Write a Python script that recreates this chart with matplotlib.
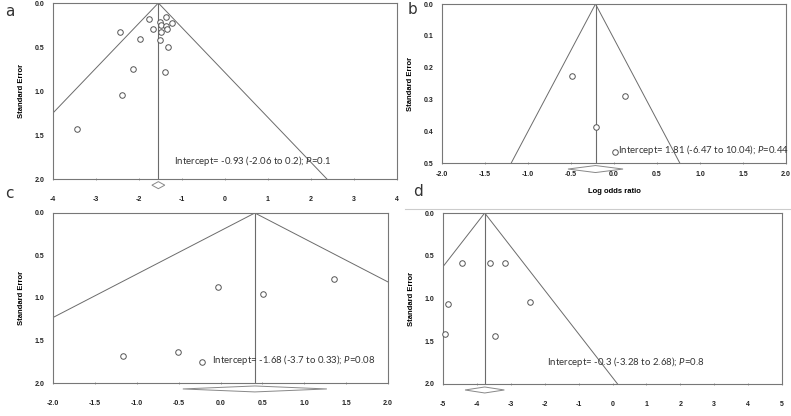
import matplotlib
matplotlib.use('Agg')
import matplotlib.pyplot as plt
import numpy as np

plt.rcParams['mathtext.fontset'] = 'custom'
plt.rcParams['mathtext.it'] = 'Lato:italic'
plt.rcParams['mathtext.rm'] = 'Lato'

# panel a
a_x = [-1.76, -1.38, -1.24, -1.51, -1.49, -1.38, -1.68, -1.35, -1.50, -2.44, -1.97, -1.51, -1.32, -2.14, -1.39, -2.40, -3.44]
a_se = [0.185, 0.159, 0.227, 0.215, 0.253, 0.265, 0.295, 0.295, 0.329, 0.329, 0.405, 0.423, 0.499, 0.749, 0.783, 1.04, 1.429]
a_pool = -1.55
a_text = 'Intercept= -0.93 (-2.06 to 0.2); '
a_p = '0.1'

# panel b
b_x = [-0.486, 0.131, -0.215, 0.012]
b_se = [0.227, 0.29, 0.388, 0.466]
b_pool = -0.215
b_text = 'Intercept= 1.81 (-6.47 to 10.04); '
b_p = '0.44'

# panel c
c_x = [-0.03, 0.51, 1.355, -1.16, -0.51, -0.22]
c_se = [0.87, 0.949, 0.776, 1.686, 1.639, 1.749]
c_pool = 0.41
c_text = 'Intercept= -1.68 (-3.7 to 0.33); '
c_p = '0.08'

# panel d
d_x = [-4.44, -3.61, -3.18, -4.86, -2.43, -4.94, -3.47]
d_se = [0.589, 0.585, 0.589, 1.064, 1.045, 1.419, 1.439]
d_pool = -3.77
d_text = 'Intercept= -0.3 (-3.28 to 2.68); '
d_p = '0.8'

gris = '#6b6b6b'


def xticks_fmt(ticks):
    if all(float(v).is_integer() for v in ticks):
        return ['%d' % v for v in ticks]
    return ['%.1f' % v for v in ticks]


fig = plt.figure(figsize=(7.91, 4.16), dpi=100)

W, H = 791.0, 416.0


def caja(l, t, r, b):
    return fig.add_axes([l / W, 1 - b / H, (r - l) / W, (b - t) / H])


axa = caja(53, 3, 397, 179)
axb = caja(442, 4, 786, 163)
axc = caja(53, 213, 388, 383)
axd = caja(443, 213, 782, 384)

pasos = [0.1 * i for i in range(-20, 21, 5)]
paneles = [
    (axa, a_x, a_se, a_pool, (-4, 4), 2.0, list(range(-4, 5)), [0, 0.5, 1.0, 1.5, 2.0], 0.15, 2.07, 0.04, a_text, a_p, -1.18, 1.83, 11),
    (axb, b_x, b_se, b_pool, (-2, 2), 0.5, [-2.0, -1.5, -1.0, -0.5, 0.0, 0.5, 1.0, 1.5, 2.0], [0, 0.1, 0.2, 0.3, 0.4, 0.5], 0.32, 0.519, 0.011, b_text, b_p, 0.05, 0.468, 5),
    (axc, c_x, c_se, c_pool, (-2, 2), 2.0, [-2.0, -1.5, -1.0, -0.5, 0.0, 0.5, 1.0, 1.5, 2.0], [0, 0.5, 1.0, 1.5, 2.0], 0.86, 2.07, 0.035, c_text, c_p, -0.1, 1.76, 11),
    (axd, d_x, d_se, d_pool, (-5, 5), 2.0, list(range(-5, 6)), [0, 0.5, 1.0, 1.5, 2.0], 0.58, 2.07, 0.035, d_text, d_p, -1.93, 1.78, 11),
]

for (ax, xs, ses, pool, xl, ym, xt, yt, dh_, dy, dhh, txt, p, tx, ty, xpad) in paneles:
    ax.set_xlim(xl)
    ax.set_ylim(ym, 0)
    se = np.array([0, ym * 1.5])
    ax.plot(pool - 1.96 * se, se, color=gris, lw=0.7)
    ax.plot(pool + 1.96 * se, se, color=gris, lw=0.7)
    ax.plot([pool, pool], [0, ym], color=gris, lw=0.8)
    ax.plot(xs, ses, 'o', mfc='white', mec='#555555', ms=4, mew=0.7, zorder=3, clip_on=False)
    ax.fill([pool - dh_, pool, pool + dh_, pool],
            [dy, dy - dhh, dy, dy + dhh], facecolor='white',
            edgecolor='#888888', lw=0.7, clip_on=False)
    ax.set_xticks(xt)
    ax.set_yticks(yt)
    ax.set_xticklabels(xticks_fmt(xt))
    ax.set_yticklabels(['%.1f' % v for v in yt])
    for s in ax.spines.values():
        s.set_color('#777777')
        s.set_linewidth(0.8)
    ax.tick_params(axis='x', direction='inout', length=2, width=0.5, colors='#777777',
                   labelcolor='#222222', labelsize=5, pad=xpad)
    ax.tick_params(axis='y', length=0, labelcolor='#222222', labelsize=5, pad=6)
    for lab in ax.get_xticklabels() + ax.get_yticklabels():
        lab.set_fontweight('bold')
        lab.set_family('Liberation Sans')
    ax.set_ylabel('Standard Error', fontsize=5.5, fontweight='bold',
                  family='Liberation Sans', labelpad=7)
    ax.text(tx, ty, txt + r'$\mathit{P}$=' + p, fontsize=6.9, family='Lato', color='#333333')

axb.set_xlabel('Log odds ratio', fontsize=5.5, fontweight='bold', family='Liberation Sans', labelpad=7)

# letras de los paneles
fig.text(5 / W, 1 - 12 / H, 'a', fontsize=11, va='center', color='#333333')
fig.text(408 / W, 1 - 10 / H, 'b', fontsize=11, va='center', color='#333333')
fig.text(5 / W, 1 - 193 / H, 'c', fontsize=11, va='center', color='#333333')
fig.text(413 / W, 1 - 192 / H, 'd', fontsize=11, va='center', color='#333333')

# borde gris claro de la imagen d
fig.add_artist(plt.Line2D([405 / W, 1], [1 - 209 / H, 1 - 209 / H], color='#cccccc', lw=0.8))

fig.savefig('out.png', dpi=100)
